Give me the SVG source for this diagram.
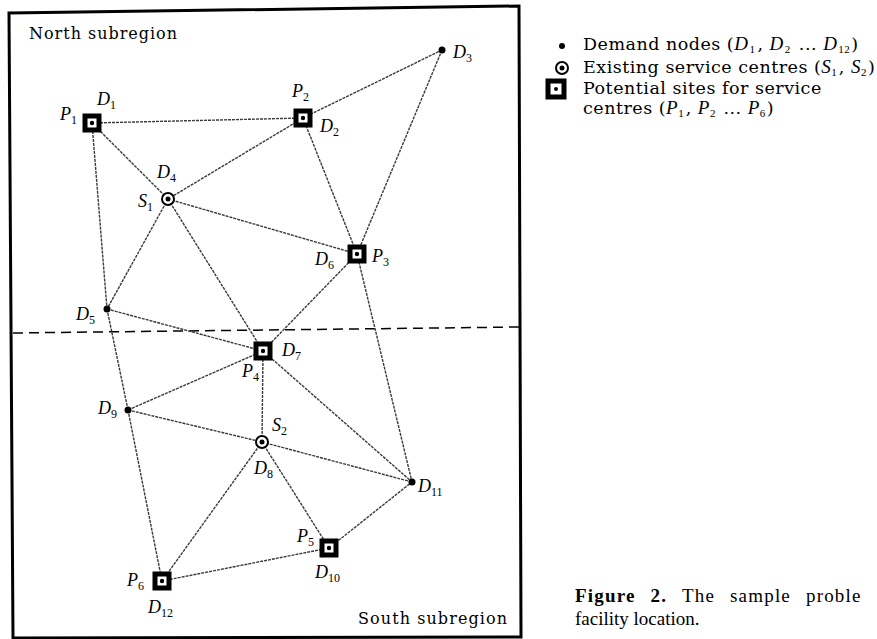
<svg xmlns="http://www.w3.org/2000/svg" width="877" height="639" viewBox="0 0 877 639">
<style>
.txt{font-family:"DejaVu Serif","Liberation Serif",serif;font-size:16px;fill:#000}
.leg{font-family:"DejaVu Serif","Liberation Serif",serif;font-size:17.5px;letter-spacing:0.5px;fill:#000}
.cap{font-family:"Liberation Serif","DejaVu Serif",serif;font-size:19px;fill:#000}
.lbl{font-family:"Liberation Serif","DejaVu Serif",serif;font-size:18px;font-style:italic;fill:#000}
.it{font-family:"Liberation Serif","DejaVu Serif",serif;font-style:italic;font-size:19px}
.sb{font-family:"Liberation Serif","DejaVu Serif",serif;font-style:normal;font-size:12px}
.lsb{font-family:"Liberation Serif","DejaVu Serif",serif;font-style:normal;font-size:11px}
.edge{stroke:#3a3a3a;stroke-width:1.4;fill:none;stroke-dasharray:3 1}
.sq{fill:#fff;stroke:#000;stroke-width:5}
.dot{fill:#000}
.ring{fill:#fff;stroke:#000;stroke-width:2}
</style>
<rect width="877" height="639" fill="#fff"/>
<g id="frame">
<polygon points="9,13 519,6 521,637 13,638" fill="none" stroke="#000" stroke-width="3"/>
<line x1="13" y1="333" x2="519" y2="327" stroke="#000" stroke-width="1.5" stroke-dasharray="10 6"/>
<text class="txt" x="29" y="39" textLength="148">North subregion</text>
<text class="txt" x="358" y="624" textLength="149">South subregion</text>
</g>
<g id="connectors">
<line class="edge" x1="92" y1="123" x2="303" y2="118"/>
<line class="edge" x1="92" y1="123" x2="168" y2="199"/>
<line class="edge" x1="92" y1="123" x2="107" y2="309"/>
<line class="edge" x1="303" y1="118" x2="442" y2="50"/>
<line class="edge" x1="303" y1="118" x2="168" y2="199"/>
<line class="edge" x1="303" y1="118" x2="357" y2="254"/>
<line class="edge" x1="442" y1="50" x2="357" y2="254"/>
<line class="edge" x1="168" y1="199" x2="357" y2="254"/>
<line class="edge" x1="168" y1="199" x2="107" y2="309"/>
<line class="edge" x1="168" y1="199" x2="263" y2="351"/>
<line class="edge" x1="357" y1="254" x2="263" y2="351"/>
<line class="edge" x1="357" y1="254" x2="412" y2="482"/>
<line class="edge" x1="107" y1="309" x2="263" y2="351"/>
<line class="edge" x1="107" y1="309" x2="128" y2="410"/>
<line class="edge" x1="263" y1="351" x2="128" y2="410"/>
<line class="edge" x1="263" y1="351" x2="262" y2="442"/>
<line class="edge" x1="263" y1="351" x2="412" y2="482"/>
<line class="edge" x1="128" y1="410" x2="262" y2="442"/>
<line class="edge" x1="262" y1="442" x2="412" y2="482"/>
<line class="edge" x1="128" y1="410" x2="162" y2="581"/>
<line class="edge" x1="262" y1="442" x2="162" y2="581"/>
<line class="edge" x1="262" y1="442" x2="329" y2="548"/>
<line class="edge" x1="329" y1="548" x2="412" y2="482"/>
<line class="edge" x1="162" y1="581" x2="329" y2="548"/>
</g>
<g id="P1">
<rect class="sq" x="85" y="116" width="14" height="14"/><circle class="dot" cx="92" cy="123" r="2.2"/>
<text class="lbl" x="60" y="120">P<tspan class="sb" dy="4">1</tspan></text>
<text class="lbl" x="97" y="105">D<tspan class="sb" dy="4">1</tspan></text>
</g>
<g id="P2">
<rect class="sq" x="296" y="111" width="14" height="14"/><circle class="dot" cx="303" cy="118" r="2.2"/>
<text class="lbl" x="292" y="97">P<tspan class="sb" dy="4">2</tspan></text>
<text class="lbl" x="320" y="132">D<tspan class="sb" dy="4">2</tspan></text>
</g>
<g id="D3">
<circle class="dot" cx="442" cy="50" r="3.5"/>
<text class="lbl" x="453" y="58">D<tspan class="sb" dy="4">3</tspan></text>
</g>
<g id="S1">
<circle class="ring" cx="168" cy="199" r="6"/><circle class="dot" cx="168" cy="199" r="2.5"/>
<text class="lbl" x="157" y="178">D<tspan class="sb" dy="4">4</tspan></text>
<text class="lbl" x="138" y="207">S<tspan class="sb" dy="4">1</tspan></text>
</g>
<g id="P3">
<rect class="sq" x="350" y="247" width="14" height="14"/><circle class="dot" cx="357" cy="254" r="2.2"/>
<text class="lbl" x="315" y="265">D<tspan class="sb" dy="4">6</tspan></text>
<text class="lbl" x="372" y="262">P<tspan class="sb" dy="4">3</tspan></text>
</g>
<g id="D5">
<circle class="dot" cx="107" cy="309" r="3.5"/>
<text class="lbl" x="76" y="320">D<tspan class="sb" dy="4">5</tspan></text>
</g>
<g id="P4">
<rect class="sq" x="256" y="344" width="14" height="14"/><circle class="dot" cx="263" cy="351" r="2.2"/>
<text class="lbl" x="282" y="356">D<tspan class="sb" dy="4">7</tspan></text>
<text class="lbl" x="242" y="377">P<tspan class="sb" dy="4">4</tspan></text>
</g>
<g id="D9">
<circle class="dot" cx="128" cy="410" r="3.5"/>
<text class="lbl" x="98" y="414">D<tspan class="sb" dy="4">9</tspan></text>
</g>
<g id="S2">
<circle class="ring" cx="262" cy="442" r="6"/><circle class="dot" cx="262" cy="442" r="2.5"/>
<text class="lbl" x="272" y="431">S<tspan class="sb" dy="4">2</tspan></text>
<text class="lbl" x="254" y="474">D<tspan class="sb" dy="4">8</tspan></text>
</g>
<g id="D11">
<circle class="dot" cx="412" cy="482" r="3.5"/>
<text class="lbl" x="418" y="492">D<tspan class="sb" dy="4">11</tspan></text>
</g>
<g id="P5">
<rect class="sq" x="322" y="541" width="14" height="14"/><circle class="dot" cx="329" cy="548" r="2.2"/>
<text class="lbl" x="297" y="542">P<tspan class="sb" dy="4">5</tspan></text>
<text class="lbl" x="315" y="578">D<tspan class="sb" dy="4">10</tspan></text>
</g>
<g id="P6">
<rect class="sq" x="155" y="574" width="14" height="14"/><circle class="dot" cx="162" cy="581" r="2.2"/>
<text class="lbl" x="127" y="586">P<tspan class="sb" dy="4">6</tspan></text>
<text class="lbl" x="148" y="613">D<tspan class="sb" dy="4">12</tspan></text>
</g>
<g id="legend">
<circle class="dot" cx="562" cy="46" r="3"/>
<text class="leg" x="583" y="50">Demand nodes (<tspan class="it">D</tspan><tspan class="lsb" dx="1" dy="3">1</tspan><tspan dx="2" dy="-3">, </tspan><tspan class="it">D</tspan><tspan class="lsb" dx="1" dy="3">2</tspan><tspan dx="2" dy="-3"> ... </tspan><tspan class="it">D</tspan><tspan class="lsb" dx="1" dy="3">12</tspan><tspan dx="1" dy="-3">)</tspan></text>
<circle class="ring" cx="562" cy="68" r="6"/><circle class="dot" cx="562" cy="68" r="2.5"/>
<text class="leg" x="583" y="73">Existing service centres (<tspan class="it">S</tspan><tspan class="lsb" dy="3">1</tspan><tspan dx="1.5" dy="-3">, </tspan><tspan class="it">S</tspan><tspan class="lsb" dy="3">2</tspan><tspan dx="1" dy="-3">)</tspan></text>
<rect x="548" y="81" width="16" height="16" fill="#fff" stroke="#000" stroke-width="5"/><circle class="dot" cx="556" cy="89" r="2"/>
<text class="leg" x="583" y="94">Potential sites for service</text>
<text class="leg" x="583" y="114">centres (<tspan class="it">P</tspan><tspan class="lsb" dy="3">1</tspan><tspan dx="1.5" dy="-3">, </tspan><tspan class="it">P</tspan><tspan class="lsb" dy="3">2</tspan><tspan dx="1.5" dy="-3"> ... </tspan><tspan class="it">P</tspan><tspan class="lsb" dy="3">6</tspan><tspan dx="1" dy="-3">)</tspan></text>
</g>
<g id="caption">
<text class="cap" x="575" y="602" font-size="19.5" letter-spacing="1.2" word-spacing="9"><tspan font-weight="bold">Figure 2.</tspan> The sample proble</text>
<text class="cap" x="575" y="625" font-size="18.5">facility location.</text>
</g>
</svg>
